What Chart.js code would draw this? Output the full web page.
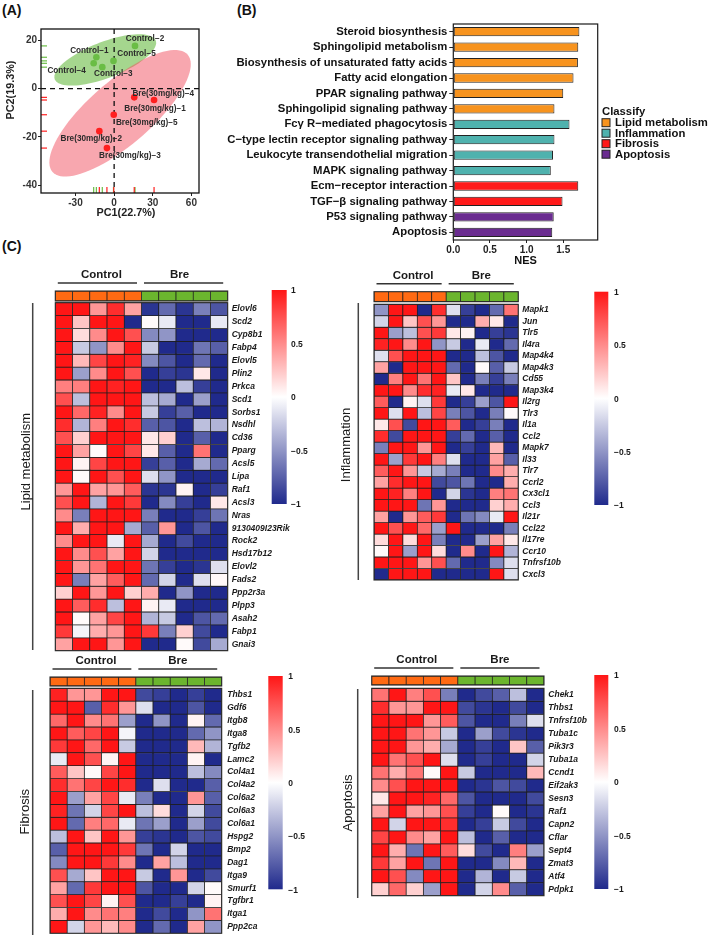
<!DOCTYPE html>
<html><head><meta charset="utf-8">
<script src="https://cdn.jsdelivr.net/npm/chart.js@4.4.1/dist/chart.umd.min.js"></script>
<style>
html,body{margin:0;padding:0;background:#fff;}
body{width:709px;height:935px;position:relative;overflow:hidden;font-family:'Liberation Sans',Arial,sans-serif;}
canvas{position:absolute;}
.pl{position:absolute;font-weight:bold;font-size:14px;color:#111;line-height:16px;}
</style></head>
<body>
<div class="pl" style="left:2px;top:2px">(A)</div>
<div class="pl" style="left:237px;top:2px">(B)</div>
<div class="pl" style="left:2px;top:238px">(C)</div>
<canvas id="pca" width="215" height="225" style="left:0;top:0"></canvas>
<canvas id="nes" width="494" height="270" style="left:215px;top:0"></canvas>
<canvas id="hLipid" width="360" height="394" style="left:0;top:262px"></canvas>
<canvas id="hInfl" width="379" height="328" style="left:330px;top:262px"></canvas>
<canvas id="hFib" width="360" height="287" style="left:0;top:648px"></canvas>
<canvas id="hApo" width="379" height="295" style="left:330px;top:640px"></canvas>
<script>
// ---------------- DATA ----------------
// Panel A (PCA)
const controlNames = ['Control\u22121','Control\u22122','Control\u22123','Control\u22124','Control\u22125'];
const controlPC1 = [-13.8, 16.2, -9.2, -15.9, -0.5];
const controlPC2 = [13.0, 17.7, 8.9, 10.5, 11.5];
const breNames = ['Bre(30mg/kg)\u22121','Bre(30mg/kg)\u22122','Bre(30mg/kg)\u22123','Bre(30mg/kg)\u22124','Bre(30mg/kg)\u22125'];
const brePC1 = [31.0, -11.5, -5.6, 15.6, -0.3];
const brePC2 = [-4.7, -17.6, -24.6, -3.6, -10.8];
const pcaXTicks = [-30, 0, 30, 60];
const pcaYTicks = [-40, -20, 0, 20];
// confidence ellipses: centre and two half-axis vectors (data units)
const ellipseControl = {cx:-6.9, cy:11.9, ax:39.2, ay:8.0, bx:4.9, by:-7.0};
const ellipseBre = {cx:4.6, cy:-10.2, ax:52.6, ay:24.2, bx:-15.8, by:10.0};

// Panel B (NES)
const pathways = ['Steroid biosynthesis','Sphingolipid metabolism','Biosynthesis of unsaturated fatty acids','Fatty acid elongation','PPAR signaling pathway','Sphingolipid signaling pathway','Fc\u03b3 R\u2212mediated phagocytosis','C\u2212type lectin receptor signaling pathway','Leukocyte transendothelial migration','MAPK signaling pathway','Ecm\u2212receptor interaction','TGF\u2212\u03b2 signaling pathway','P53 signaling pathway','Apoptosis'];
const nesValues = [1.72, 1.705, 1.70, 1.64, 1.50, 1.38, 1.585, 1.38, 1.36, 1.33, 1.705, 1.49, 1.37, 1.35];
const pathwayClass = ['Lipid metabolism','Lipid metabolism','Lipid metabolism','Lipid metabolism','Lipid metabolism','Lipid metabolism','Inflammation','Inflammation','Inflammation','Inflammation','Fibrosis','Fibrosis','Apoptosis','Apoptosis'];
const classNames = ['Lipid metabolism','Inflammation','Fibrosis','Apoptosis'];
const nesTicks = [0, 0.5, 1.0, 1.5];

// Panel C (heatmaps)
const samples = ['C1','C2','C3','C4','C5','B1','B2','B3','B4','B5'];
const sampleGroup = ['Control','Control','Control','Control','Control','Bre','Bre','Bre','Bre','Bre'];
const groupNames = ['Control','Bre'];
const colorTicks = [1, 0.5, 0, -0.5, -1];

const lipidGenes = ['Elovl6','Scd2','Cyp8b1','Fabp4','Elovl5','Plin2','Prkca','Scd1','Sorbs1','Nsdhl','Cd36','Pparg','Acsl5','Lipa','Raf1','Acsl3','Nras','9130409I23Rik','Rock2','Hsd17b12','Elovl2','Fads2','Ppp2r3a','Plpp3','Asah2','Fabp1','Gnai3'];
const lipidValues = [
 [1, 1, 0.45, 0.9, 0.4, -0.95, -0.7, -0.95, -0.6, -0.8],
 [1, 0.25, 1, 1, -1, 0.02, -0.1, -1, -1, -0.1],
 [1, 0.15, 0.5, 1, 0.75, -0.55, -0.5, -1, -1, -1],
 [1, -0.25, -0.5, 0.5, 1, -0.25, -1, -1, -0.65, -0.75],
 [1, 0.3, 0.8, 1, 0.95, -0.55, -0.8, -1, -0.7, -1],
 [1, -0.45, 0.5, 1, 0.75, -1, -0.9, -0.95, 0.1, -1],
 [0.55, 0.55, 1, 0.95, 1, -1, -1, -0.3, -0.9, -1],
 [0.75, -0.3, 1, 1, 1, -0.3, -0.4, -1, -0.45, -1],
 [1, 0.65, 0.95, 0.5, 1, -0.25, -0.9, -0.75, -1, -1],
 [0.9, -0.35, 0.55, 1, 0.9, -0.75, -0.8, -1, -0.3, -0.35],
 [0.75, 0.2, 1, 1, 1, 0.1, 0.2, -1, -0.75, -1],
 [1, 0.4, 0.02, 1, 0.8, 0.1, -0.75, -1, 0.6, -1],
 [1, 0.05, 0.8, 1, 1, -0.9, -0.75, -1, -0.4, -0.7],
 [1, 0.02, 1, 0.75, 1, -0.15, -0.5, -1, -1, -1],
 [0.45, 1, 0.4, 0.45, 0.7, -0.95, -0.95, 0.05, -1, -0.9],
 [0.75, 1, -0.35, 1, 0.85, -1, -0.55, -0.9, -1, 0.1],
 [0.5, -0.6, 1, 1, 1, -0.6, -1, -1, -0.9, -0.65],
 [1, 0.35, 1, 1, -0.4, -0.75, 0.45, -1, -0.8, -1],
 [0.5, 1, 1, -0.1, 1, -0.4, -1, -0.85, -1, -1],
 [1, 0.5, 0.75, 0.4, 1, -0.2, -1, -1, -1, -1],
 [1, 0.45, 0.6, 1, 1, -0.65, -0.9, -1, -0.95, -0.15],
 [1, -0.6, 0.4, 0.7, 1, -0.7, -0.2, -1, -0.15, 0.03],
 [0.2, 1, 0.45, 1, 0.2, 0.35, -1, -0.5, -1, -1],
 [1, 0.7, 0.9, -0.3, 1, 0.05, -0.1, -1, -1, -1],
 [1, 0.02, 0.4, 0.8, 1, -0.35, -0.25, -1, -0.8, -0.7],
 [0.85, -0.05, 0.35, 0.45, 1, 0.85, -0.6, 0.2, -0.85, -1],
 [0.4, 1, 1, 0.45, 1, -1, -1, 0.02, -0.85, -0.4]
];

const inflGenes = ['Mapk1','Jun','Tlr5','Il4ra','Map4k4','Map4k3','Cd55','Map3k4','Il2rg','Tlr3','Il1a','Ccl2','Mapk7','Il33','Tlr7','Ccrl2','Cx3cl1','Ccl3','Il21r','Ccl22','Il17re','Ccr10','Tnfrsf10b','Cxcl3'];
const inflValues = [
 [-0.5, 1, 1, -1, 0.9, -0.15, -0.9, -1, -0.7, 0.6],
 [-0.2, 1, 0.25, 0.75, 0.45, -1, -1, 0.35, 0.1, -1],
 [1, -0.45, -0.3, 0.75, 0.85, 0.1, 0.05, -1, -0.9, -0.95],
 [0.95, 1, 0.5, 1, -0.5, -0.25, -1, -0.1, -1, -0.7],
 [-0.15, 0.75, 1, 1, 1, -1, -1, -0.3, -0.8, -1],
 [0.4, -1, 1, 1, 1, -0.7, -1, 0.02, -0.75, -0.25],
 [-1, 0.55, 1, 0.6, 1, 0.25, -1, -0.6, -0.9, -0.6],
 [1, 1, 0.5, 0.9, 0.95, -0.1, 0.1, -1, -1, -1],
 [0.7, -1, 0.05, -0.15, 0.85, -1, -0.9, -0.45, -0.8, 1],
 [1, -0.15, 1, -0.3, 0.8, -0.6, -0.8, -1, -0.6, 0.02],
 [0.1, 0.75, -0.85, 1, 1, 0.7, -1, -0.9, -0.6, -1],
 [0.9, -0.85, 1, 1, 1, -0.9, -0.7, -1, -0.75, -1],
 [-0.6, 1, 1, 0.45, 1, -1, -0.9, -1, 0.3, -1],
 [1, -0.45, 0.85, 1, 0.55, -0.15, -1, -1, 0.4, -0.75],
 [0.7, 1, 0.45, -0.25, -0.4, -0.6, -1, -1, 0.5, 0.35],
 [0.4, 0.9, 1, 1, -0.85, -0.8, -0.65, -1, -1, 0.35],
 [1, 0.95, 0.55, 1, -1, -0.2, -0.95, -1, 0.55, 0.6],
 [1, 1, 1, -0.65, 0.45, -1, -1, -1, 0.2, 0.35],
 [0.4, -1, 0.45, 0.7, 0.85, -1, -0.65, -0.55, -0.1, 1],
 [1, 0.75, 1, 0.65, -0.45, 1, -1, -1, -1, -0.6],
 [0.15, 1, 0.15, 1, -0.6, -1, -1, -0.45, 0.4, 0.1],
 [0.02, 1, -0.45, 1, 0.15, -1, 0.5, -1, 1, -0.35],
 [1, 1, 1, 0.45, 0.75, -0.7, -1, -1, -0.55, -0.15],
 [-1, 1, 1, 1, -1, -1, -1, -1, 1, -0.15]
];

const fibGenes = ['Thbs1','Gdf6','Itgb8','Itga8','Tgfb2','Lamc2','Col4a1','Col4a2','Col6a2','Col6a3','Col6a1','Hspg2','Bmp2','Dag1','Itga9','Smurf1','Tgfbr1','Itga1','Ppp2ca'];
const fibValues = [
 [0.95, 0.45, 0.45, 1, 1, -0.85, -0.9, -1, -0.9, -1],
 [1, 1, -0.75, 0.9, 0.45, -0.15, -1, -1, -0.8, -1],
 [0.65, 1, 0.5, 0.6, -0.45, -1, -0.5, -1, 0.05, -0.7],
 [1, 0.7, 0.8, 1, -0.05, -1, -1, -1, -0.7, -0.5],
 [0.85, 1, 0.65, 1, -0.25, -1, -1, -1, 0.3, -0.35],
 [-0.1, 1, 0.75, 0.05, 1, -1, -1, -1, 0.05, -1],
 [0.7, 0.25, 0.02, 0.8, 1, -1, -1, -1, -0.3, -0.55],
 [0.9, 0.6, 0.8, 1, 0.9, -1, -0.15, -1, -1, -0.75],
 [1, -0.45, 0.4, 0.8, -0.1, -0.6, -1, -1, 0.45, -0.75],
 [0.95, -0.65, -0.2, 0.8, 1, -0.3, 0.15, -1, -0.2, -0.85],
 [1, -0.7, 0.55, 0.65, -0.1, -0.65, -0.45, -1, -0.45, -0.85],
 [-0.3, 1, 0.25, 1, 0.45, -0.9, -0.95, -1, -0.8, -0.85],
 [-0.75, 1, 1, 1, 0.85, -0.65, -1, -0.2, -1, -1],
 [-0.55, 1, 1, 0.85, 0.5, -1, 0.4, -0.3, -1, -1],
 [0.75, -0.4, 0.25, 1, 1, -0.25, -1, 0.45, -1, -0.85],
 [0.4, -0.7, 0.85, 1, 1, -0.8, -1, -1, -0.2, 0.02],
 [0.75, 1, 0.8, 0.05, 0.75, -1, -1, -0.9, -1, 0.05],
 [0.35, 1, 0.5, 0.6, 0.55, -1, -0.85, -1, -0.5, 0.6],
 [1, -0.2, 0.45, 0.3, 0.5, -1, -0.7, -1, 0.4, -0.5]
];

const apoGenes = ['Chek1','Thbs1','Tnfrsf10b','Tuba1c','Pik3r3','Tuba1a','Ccnd1','Eif2ak3','Sesn3','Raf1','Capn2','Cflar','Sept4','Zmat3','Atf4','Pdpk1'];
const apoValues = [
 [0.6, 1, 0.55, 0.75, -0.6, -1, -0.85, -0.75, -0.3, -1],
 [0.9, 0.45, 0.45, 1, 1, -0.85, -0.95, -1, -0.85, -1],
 [1, 1, 1, 0.45, 0.7, -0.8, -1, -1, -0.6, -0.15],
 [1, 1, 0.6, 0.45, -0.25, -1, -0.45, -0.85, -0.95, -1],
 [1, 1, 0.45, 0.35, -0.4, -1, -0.9, -1, 0.25, -0.75],
 [1, 0.6, 0.75, 1, -0.15, -1, -0.9, -1, -1, -0.2],
 [0.6, 0.35, 0.6, 0.02, 1, -0.25, -1, -1, -1, 0.3],
 [0.5, 0.75, 1, 1, 1, -1, -0.95, -0.8, -0.85, -1],
 [0.1, 1, 1, 0.95, 0.65, -0.8, -1, -1, -1, -0.85],
 [0.4, 1, 0.4, 0.45, 0.75, -0.9, -1, 0.02, -1, -0.95],
 [1, -0.2, 1, 1, 0.9, -1, -0.9, -0.25, -0.85, -1],
 [0.8, 1, 0.5, 0.4, 1, -0.3, -1, -0.75, -1, -1],
 [1, 0.35, -0.65, 1, 0.7, 0.15, -0.85, -1, 0.55, -0.45],
 [0.85, 0.4, 1, -0.65, 1, -1, -1, -0.55, 0.3, -1],
 [1, 0.75, -0.55, 1, 1, -1, -0.35, -1, -0.25, -1],
 [0.2, 0.65, 0.2, -0.45, 1, -1, -0.2, 0.5, -0.75, -1]
];

// ---------------- STYLE ----------------
const FONT = "'Liberation Sans', Arial, sans-serif";
Chart.defaults.font.family = FONT;
Chart.defaults.animation = false;
Chart.defaults.plugins.legend.display = false;
Chart.defaults.plugins.tooltip.enabled = false;

const groupColor = {Control:'#6abd45', Bre:'#ff1f1f'};
const ellipseColor = {Control:'rgba(100,185,60,0.58)', Bre:'rgba(242,80,95,0.5)'};
const classColor = {'Lipid metabolism':'#f7931e','Inflammation':'#4fb2ae','Fibrosis':'#ff1a1a','Apoptosis':'#6a2c90'};
const annColor = {Control:'#ff6a13', Bre:'#6bb52e'};

function hmColor(v){
  const lo=[32,42,140], hi=[255,22,22];
  const t=Math.max(-1,Math.min(1,v)), a=t>=0?hi:lo, f=Math.abs(t);
  const c=a.map(ch=>Math.round(255+(ch-255)*f));
  return 'rgb('+c.join(',')+')';
}
function zeroPad(s){ s.paddingTop=0; s.paddingBottom=0; s.paddingLeft=0; s.paddingRight=0; }

// ---------------- PANEL A ----------------
const pcaLabelOffset = { // px offsets of text labels from points (ggrepel-like)
  Control:[[-7,-7],[10,-7.6],[11,7],[-27,7.5],[23,-7]],
  Bre:[[1,8.5],[-8,7.5],[23,8],[29,-3.5],[33,7.5]]
};
const pcaPlugin = {
  id:'pcaDeco',
  beforeDatasetsDraw(chart){
    const {ctx, chartArea:ca, scales:{x,y}} = chart;
    ctx.save();
    ctx.beginPath(); ctx.rect(ca.left, ca.top, ca.width, ca.height); ctx.clip();
    [[ellipseControl,'Control'],[ellipseBre,'Bre']].forEach(([e,g])=>{
      const c=[x.getPixelForValue(e.cx), y.getPixelForValue(e.cy)];
      const a=[x.getPixelForValue(e.cx+e.ax)-c[0], y.getPixelForValue(e.cy+e.ay)-c[1]];
      const b=[x.getPixelForValue(e.cx+e.bx)-c[0], y.getPixelForValue(e.cy+e.by)-c[1]];
      ctx.beginPath();
      for(let k=0;k<=90;k++){
        const t=k/90*2*Math.PI;
        const px=c[0]+a[0]*Math.cos(t)+b[0]*Math.sin(t), py=c[1]+a[1]*Math.cos(t)+b[1]*Math.sin(t);
        if(k===0) ctx.moveTo(px,py); else ctx.lineTo(px,py);
      }
      ctx.closePath(); ctx.fillStyle=ellipseColor[g]; ctx.fill();
    });
    ctx.setLineDash([5,4]); ctx.strokeStyle='#111'; ctx.lineWidth=1.3;
    const x0=x.getPixelForValue(0), y0=y.getPixelForValue(0);
    ctx.beginPath(); ctx.moveTo(x0,ca.top); ctx.lineTo(x0,ca.bottom); ctx.stroke();
    ctx.beginPath(); ctx.moveTo(ca.left,y0); ctx.lineTo(ca.right,y0); ctx.stroke();
    ctx.setLineDash([]);
    // rugs
    ctx.lineWidth=1.2;
    [[controlPC1,controlPC2,'Control'],[brePC1,brePC2,'Bre']].forEach(([xs,ys,g])=>{
      ctx.strokeStyle=groupColor[g];
      xs.forEach((v,i)=>{
        const px=x.getPixelForValue(v), py=y.getPixelForValue(ys[i]);
        ctx.beginPath(); ctx.moveTo(ca.left,py); ctx.lineTo(ca.left+6,py); ctx.stroke();
        ctx.beginPath(); ctx.moveTo(px,ca.bottom); ctx.lineTo(px,ca.bottom-6); ctx.stroke();
      });
    });
    ctx.restore();
  },
  afterDatasetsDraw(chart){
    const {ctx, chartArea:ca, scales:{x,y}} = chart;
    ctx.save();
    ctx.font='bold 8.2px '+FONT; ctx.fillStyle='#2b2b2b'; ctx.textAlign='center'; ctx.textBaseline='middle';
    [[controlNames,controlPC1,controlPC2,'Control'],[breNames,brePC1,brePC2,'Bre']].forEach(([names,xs,ys,g])=>{
      names.forEach((n,i)=>{
        const o=pcaLabelOffset[g][i];
        ctx.fillText(n, x.getPixelForValue(xs[i])+o[0], y.getPixelForValue(ys[i])+o[1]);
      });
    });
    ctx.strokeStyle='#111'; ctx.lineWidth=1.3;
    ctx.strokeRect(ca.left, ca.top, ca.width, ca.height);
    ctx.font='bold 10.8px '+FONT; ctx.fillStyle='#222';
    ctx.fillText('PC1(22.7%)', 126, 213);
    ctx.translate(11,90); ctx.rotate(-Math.PI/2); ctx.fillText('PC2(19.3%)',0,0);
    ctx.restore();
  }
};
new Chart(document.getElementById('pca'), {
  type:'scatter',
  data:{datasets:[
    {data:controlPC1.map((v,i)=>({x:v,y:controlPC2[i]})), backgroundColor:groupColor.Control, borderWidth:0, pointRadius:3.3},
    {data:brePC1.map((v,i)=>({x:v,y:brePC2[i]})), backgroundColor:groupColor.Bre, borderWidth:0, pointRadius:3.3}
  ]},
  options:{
    responsive:false, animation:false,
    layout:{padding:{left:0, top:29, right:16, bottom:0}},
    scales:{
      x:{type:'linear', min:-56.8, max:65.9,
        afterBuildTicks(s){ s.ticks=pcaXTicks.map(v=>({value:v})); },
        afterFit(s){ s.height=32; zeroPad(s); },
        grid:{display:true, drawOnChartArea:false, tickLength:3, color:'#222'}, border:{display:false},
        ticks:{font:{size:10, weight:'bold'}, color:'#333', padding:1, maxRotation:0}},
      y:{type:'linear', min:-43.2, max:24.7,
        afterBuildTicks(s){ s.ticks=pcaYTicks.map(v=>({value:v})); },
        afterFit(s){ s.width=41; zeroPad(s); },
        grid:{display:true, drawOnChartArea:false, tickLength:3, color:'#222'}, border:{display:false},
        ticks:{font:{size:10, weight:'bold'}, color:'#333', padding:1}}
    }
  },
  plugins:[pcaPlugin]
});

// ---------------- PANEL B ----------------
const nesPlugin = {
  id:'nesDeco',
  afterDraw(chart){
    const {ctx, chartArea:ca} = chart;
    ctx.save();
    ctx.strokeStyle='#1a1a1a'; ctx.lineWidth=1.2;
    ctx.strokeRect(ca.left, ca.top, ca.width, ca.height);
    // legend
    const lx=387, ly=111.7, step=10.5;
    ctx.fillStyle='#111'; ctx.textBaseline='middle'; ctx.textAlign='left';
    ctx.font='bold 11.3px '+FONT;
    ctx.fillText('Classify', lx, ly);
    classNames.forEach((c,i)=>{
      const cy=ly+11+i*step;
      ctx.fillStyle=classColor[c]; ctx.fillRect(lx, cy-4, 8, 8);
      ctx.strokeStyle='#222'; ctx.lineWidth=1; ctx.strokeRect(lx, cy-4, 8, 8);
      ctx.fillStyle='#111'; ctx.fillText(c, lx+13, cy+0.5);
    });
    ctx.restore();
  }
};
new Chart(document.getElementById('nes'), {
  type:'bar',
  data:{labels:pathways, datasets:[{
    data:nesValues, backgroundColor:pathwayClass.map(c=>classColor[c]),
    borderColor:'#222', borderWidth:1, borderSkipped:false, barPercentage:0.6, categoryPercentage:1
  }]},
  options:{
    responsive:false, animation:false, indexAxis:'y',
    layout:{padding:{left:0, top:24, right:111.3, bottom:0}},
    scales:{
      x:{type:'linear', min:0, max:1.97,
        afterBuildTicks(s){ s.ticks=nesTicks.map(v=>({value:v})); },
        afterFit(s){ s.height=30; zeroPad(s); },
        grid:{display:true, drawOnChartArea:false, tickLength:3, color:'#222'}, border:{display:false},
        ticks:{font:{size:10, weight:'bold'}, color:'#222', padding:1, maxRotation:0, callback:v=>Number(v).toFixed(1)},
        title:{display:true, text:'NES', font:{size:11, weight:'bold'}, color:'#111', padding:{top:0, bottom:2}}},
      y:{type:'category',
        afterFit(s){ s.width=238.3; zeroPad(s); },
        grid:{display:true, drawOnChartArea:false, offset:false, tickLength:4, color:'#222'}, border:{display:false},
        ticks:{font:{size:11.3, weight:'bold'}, color:'#111', padding:2, autoSkip:false}}
    }
  },
  plugins:[nesPlugin]
});

// ---------------- PANEL C ----------------
function heatmap(id, genes, values, geo){
  const n=genes.length;
  const rowH=(geo.bodyBottom-geo.bodyTop)/n;
  const annU=(geo.annBottom-geo.annTop)/rowH, gapU=(geo.bodyTop-geo.annBottom)/rowH;
  const yMin=-(annU+gapU);
  const canvas=document.getElementById(id);
  const cw=canvas.width, ch=canvas.height;
  const common={grouped:false, barPercentage:1, categoryPercentage:1, borderColor:'#1e1e1e', borderWidth:0.75, borderSkipped:false};
  const datasets=[Object.assign({data:samples.map(()=>[yMin,-gapU]), backgroundColor:sampleGroup.map(g=>annColor[g])}, common)];
  genes.forEach((g,i)=>{
    datasets.push(Object.assign({data:samples.map(()=>[i,i+1]), backgroundColor:values[i].map(hmColor)}, common));
  });
  const plug={
    id:'hm_'+id,
    afterDatasetsDraw(chart){
      const {ctx, chartArea:ca, scales:{x,y}} = chart;
      const ox=geo.cx, oy=geo.cy;
      ctx.save();
      ctx.strokeStyle='#2a2a2a'; ctx.lineWidth=1.1;
      const yA0=y.getPixelForValue(yMin), yA1=y.getPixelForValue(-gapU), yB0=y.getPixelForValue(0), yB1=y.getPixelForValue(n);
      ctx.strokeRect(ca.left, yA0, ca.width, yA1-yA0);
      ctx.strokeRect(ca.left, yB0, ca.width, yB1-yB0);
      // group headings
      const colW=ca.width/samples.length;
      ctx.font='bold 11.5px '+FONT; ctx.fillStyle='#1a1a1a'; ctx.textAlign='center'; ctx.textBaseline='middle';
      groupNames.forEach((g,gi)=>{
        const first=sampleGroup.indexOf(g), last=sampleGroup.lastIndexOf(g);
        const l=x.getPixelForValue(first)-colW/2+2.5, r=x.getPixelForValue(last)+colW/2-4.5;
        ctx.strokeStyle='#333'; ctx.lineWidth=1.4;
        ctx.beginPath(); ctx.moveTo(l, yA0-8); ctx.lineTo(r, yA0-8); ctx.stroke();
        ctx.fillText(g, (l+r)/2+geo.headShift[gi], yA0-16);
      });
      // colour bar
      const cb=geo.cb, bx=cb.x-ox, by=cb.y-oy;
      const grad=ctx.createLinearGradient(0,by,0,by+cb.h);
      for(let k=0;k<=20;k++){ const v=1-k/10; grad.addColorStop(k/20, hmColor(v)); }
      ctx.fillStyle=grad; ctx.fillRect(bx,by,cb.w,cb.h);
      ctx.font='bold 8.5px '+FONT; ctx.fillStyle='#1a1a1a'; ctx.textAlign='left';
      colorTicks.forEach(v=>{
        const ty=by+(1-v)/2*cb.h;
        ctx.fillText(String(v).replace('-','\u2212'), cb.labelX-ox, ty+1);
      });
      // bracket + title
      const br=geo.bracket;
      ctx.strokeStyle='#444'; ctx.lineWidth=1.5;
      ctx.beginPath(); ctx.moveTo(br.x-ox, br.y1-oy); ctx.lineTo(br.x-ox, br.y2-oy); ctx.stroke();
      ctx.font='13px '+FONT; ctx.fillStyle='#1a1a1a'; ctx.textAlign='center';
      ctx.translate(br.tx-ox, br.ty-oy); ctx.rotate(-Math.PI/2); ctx.fillText(br.title,0,0);
      ctx.restore();
    }
  };
  new Chart(canvas, {
    type:'bar',
    data:{labels:samples, datasets},
    options:{
      responsive:false, animation:false,
      layout:{padding:{left:geo.left-geo.cx, top:geo.annTop-geo.cy, right:0, bottom:ch-(geo.bodyBottom-geo.cy)}},
      scales:{
        x:{type:'category', display:false},
        y:{type:'linear', position:'right', reverse:true, min:yMin, max:n,
          afterBuildTicks(s){ s.ticks=genes.map((g,i)=>({value:i+0.5})); },
          afterFit(s){ s.width=cw-(geo.right-geo.cx); zeroPad(s); },
          grid:{display:false, drawTicks:false}, border:{display:false},
          ticks:{autoSkip:false, padding:geo.labelPad, color:'#1a1a1a', font:{size:8.5, weight:'bold', style:'italic'},
            callback:(v,i)=>genes[i]}}
      }
    },
    plugins:[plug]
  });
}

heatmap('hLipid', lipidGenes, lipidValues, {cx:0, cy:262, left:55.3, right:227.7, annTop:291, annBottom:301, bodyTop:302.7, bodyBottom:650.7,
  labelPad:4, headShift:[4,-4], cb:{x:271.7, y:290, w:15, h:214, labelX:291},
  bracket:{x:32.7, y1:303, y2:650, title:'Lipid metabolism', tx:26.7, ty:461.7}});
heatmap('hInfl', inflGenes, inflValues, {cx:330, cy:262, left:374, right:518.3, annTop:291.7, annBottom:301.7, bodyTop:304.3, bodyBottom:580,
  labelPad:4, headShift:[4,0], cb:{x:594.3, y:291.7, w:14, h:213.3, labelX:614},
  bracket:{x:358.3, y1:303, y2:580, title:'Inflammation', tx:346.7, ty:445}});
heatmap('hFib', fibGenes, fibValues, {cx:0, cy:648, left:50, right:221.7, annTop:677, annBottom:686, bodyTop:688.3, bodyBottom:933.3,
  labelPad:5.5, headShift:[4,0], cb:{x:268.3, y:676, w:14.4, h:213.3, labelX:288.3},
  bracket:{x:32.7, y1:690, y2:935, title:'Fibrosis', tx:25, ty:811.7}});
heatmap('hApo', apoGenes, apoValues, {cx:330, cy:640, left:371.7, right:544, annTop:676, annBottom:685, bodyTop:688.3, bodyBottom:895.7,
  labelPad:4.3, headShift:[3,0], cb:{x:594.3, y:675, w:14, h:214, labelX:614},
  bracket:{x:357.7, y1:689, y2:898, title:'Apoptosis', tx:348.3, ty:803}});
</script>
</body></html>
